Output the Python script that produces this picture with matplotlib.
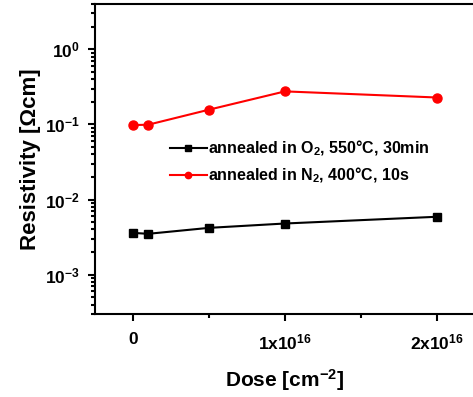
import math

import matplotlib
matplotlib.use("Agg")
import matplotlib.pyplot as plt
from matplotlib.ticker import FixedLocator, LogLocator, FuncFormatter

plt.rcParams["font.family"] = ["Liberation Sans", "DejaVu Sans"]
plt.rcParams["font.weight"] = "bold"
plt.rcParams["mathtext.fontset"] = "custom"
plt.rcParams["mathtext.rm"] = "Liberation Sans:bold"
plt.rcParams["mathtext.it"] = "Liberation Sans:bold"
plt.rcParams["mathtext.bf"] = "Liberation Sans:bold"
plt.rcParams["mathtext.default"] = "rm"

# dose in units of 1e16 cm^-2
dose_o2 = [0, 0.1, 0.5, 1.0, 2.0]
rho_o2 = [3.6e-3, 3.5e-3, 4.2e-3, 4.8e-3, 5.9e-3]
dose_n2 = [0, 0.1, 0.5, 1.0, 2.0]
rho_n2 = [0.098, 0.099, 0.157, 0.275, 0.228]

xticks = [0, 1, 2]
xticklabels = ["0", r"1x10$^{16}$", r"2x10$^{16}$"]

fig = plt.figure(figsize=(4.73, 3.97), dpi=100)
ax = fig.add_axes([0.2008, 0.2091, 0.8034, 0.7808])

ax.plot(dose_o2, rho_o2, "-s", color="black", lw=1.5, ms=5.5,
        label=r"annealed in O$_2$, 550°C, 30min")
ax.plot(dose_n2, rho_n2, "-o", color="red", lw=1.5, ms=6.5,
        label=r"annealed in N$_2$, 400°C, 10s")

ax.set_yscale("log")
ax.set_ylim(3e-4, 4)
ax.set_xlim(-0.25, 2.25)

ax.set_xticks(xticks)
ax.set_xticklabels(xticklabels)
ax.xaxis.set_minor_locator(FixedLocator([0.5, 1.5]))
ax.yaxis.set_major_locator(LogLocator(base=10, numticks=10))
ax.yaxis.set_minor_locator(LogLocator(base=10, subs=range(2, 10), numticks=20))
ax.yaxis.set_major_formatter(
    FuncFormatter(lambda v, _: r"10$^{%d}$" % round(math.log10(v))))

ax.tick_params(which="both", direction="out", width=1.5, labelsize=12.5,
               top=False, right=False)
ax.tick_params(which="major", length=5, pad=6)
ax.tick_params(which="minor", length=3)
ax.tick_params(axis="x", pad=8)
for s in ax.spines.values():
    s.set_linewidth(1.5)

ax.set_ylabel("Resistivity [Ωcm]", fontsize=16, fontweight="bold", labelpad=3)
ax.set_xlabel(r"Dose [cm$^{-2}$]", fontsize=15, fontweight="bold", labelpad=11)

ax.legend(loc="upper left", bbox_to_anchor=(0.197, 0.565), frameon=False,
          fontsize=11.5, handlelength=2.3, handletextpad=0.1, markerscale=0.7,
          labelspacing=0.45, borderpad=0, borderaxespad=0)

fig.savefig("out.png", dpi=100)
